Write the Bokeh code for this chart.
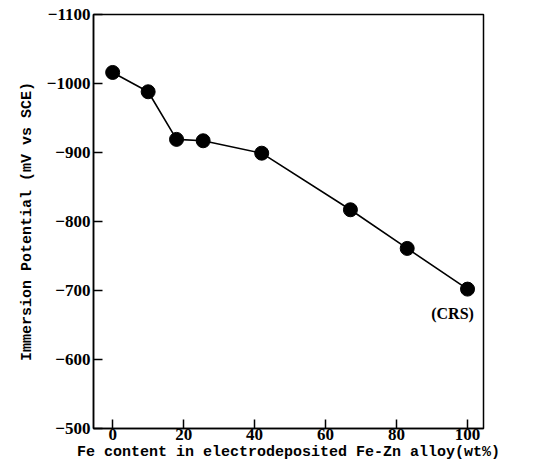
from bokeh.plotting import figure
from bokeh.models import Range1d, FixedTicker, Label
from bokeh.embed import file_html
from bokeh.resources import INLINE

fe_content = [0, 10, 18, 25.5, 42, 67, 83, 100]
potential = [-1016, -988, -919, -917, -899, -817, -761, -702]
x_ticks = [0, 20, 40, 60, 80, 100]
y_ticks = [-1100, -1000, -900, -800, -700, -600, -500]
y_tick_labels = ["\u22121100", "\u22121000", "\u2212900", "\u2212800", "\u2212700", "\u2212600", "\u2212500"]
x_label = "Fe content in electrodeposited Fe-Zn alloy(wt%)"
y_label = "Immersion Potential (mV vs SCE)"
note = "(CRS)"

p = figure(width=534, height=468, output_backend="svg", toolbar_location=None,
           x_range=Range1d(-5.4, 104.5), y_range=Range1d(-500, -1100),
           min_border_left=93, min_border_right=51, min_border_top=14, min_border_bottom=40)
p.background_fill_color = "white"
p.border_fill_color = "white"
p.grid.visible = False
p.outline_line_color = "black"
p.outline_line_width = 1.5

for ax in (p.xaxis[0], p.yaxis[0]):
    ax.axis_line_width = 1.5
    ax.major_tick_in = 9
    ax.major_tick_out = 0
    ax.major_tick_line_width = 1.5
    ax.minor_tick_line_color = None
    ax.major_label_text_font = "Liberation Serif"
    ax.major_label_text_font_style = "bold"
    ax.major_label_text_font_size = "17px"
    ax.major_label_text_color = "black"
    ax.axis_label_text_font = "Liberation Mono"
    ax.axis_label_text_font_style = "bold"
    ax.axis_label_text_font_size = "15px"
    ax.axis_label_text_color = "black"

p.xaxis[0].ticker = FixedTicker(ticks=x_ticks)
p.yaxis[0].ticker = FixedTicker(ticks=y_ticks)
p.yaxis[0].major_label_overrides = {t: s for t, s in zip(y_ticks, y_tick_labels)}
p.xaxis[0].major_label_standoff = 0
p.yaxis[0].major_label_standoff = 3
p.xaxis[0].axis_label = x_label
p.yaxis[0].axis_label = y_label
p.xaxis[0].axis_label_standoff = 1
p.yaxis[0].axis_label_standoff = 8

p.line(fe_content, potential, line_color="black", line_width=1.6)
p.scatter(fe_content, potential, size=14, fill_color="black", line_color="black")

p.add_layout(Label(x=fe_content[-1], y=potential[-1], text=note, x_offset=-15, y_offset=-24,
                   text_align="center", text_baseline="middle",
                   text_font="Liberation Serif", text_font_style="bold", text_font_size="16px",
                   text_color="black"))

open("out.html", "w").write(file_html(p, INLINE))
